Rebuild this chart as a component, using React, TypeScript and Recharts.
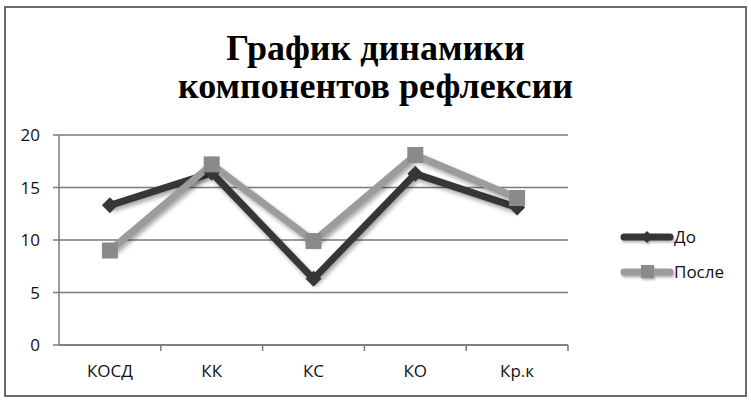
import React from "react";
import { LineChart, Line, XAxis, YAxis, CartesianGrid } from "recharts";

const categories = ["КОСД", "КК", "КС", "КО", "Кр.к"];
const beforeValues = [13.3, 16.4, 6.3, 16.3, 13.1];
const afterValues = [9, 17.2, 9.9, 18.1, 14];
const yTicks = [0, 5, 10, 15, 20];
const titleLines = ["График динамики", "компонентов рефлексии"];
const seriesNames = { before: "До", after: "После" };

const data = categories.map((name, i) => ({
  name,
  before: beforeValues[i],
  after: afterValues[i],
}));

const DARK = "#363636";
const LIGHT = "#9c9c9c";
const SQUARE = "#8a8a8a";
const AXIS = "#7a7a7a";
const FONT = "'Open Sans', 'Noto Sans', sans-serif";

const W = 751;
const H = 401;
const plotLeft = 59;
const plotRight = 568;
const band = (plotRight - plotLeft) / categories.length;

const Diamond = (props: any) => {
  const { cx, cy } = props;
  if (cx == null || cy == null) return null;
  const r = 8;
  return (
    <path
      d={`M${cx} ${cy - r}L${cx + r} ${cy}L${cx} ${cy + r}L${cx - r} ${cy}Z`}
      fill={DARK}
    />
  );
};

const Square = (props: any) => {
  const { cx, cy } = props;
  if (cx == null || cy == null) return null;
  const s = 16;
  return <rect x={cx - s / 2} y={cy - s / 2} width={s} height={s} fill={SQUARE} />;
};

const XTick = (props: any) => {
  const { x, y, payload } = props;
  const axisY = y - 8;
  return (
    <g>
      <line x1={x + band / 2} x2={x + band / 2} y1={axisY} y2={axisY + 6} stroke={AXIS} strokeWidth={1.5} />
      <text x={x} y={axisY + 32} textAnchor="middle" fontSize={17} fontFamily={FONT} fill="#111">
        {payload.value}
      </text>
    </g>
  );
};

// legend drawn by hand so it doesn't eat plot space
const LegendBox = () => {
  const items = [
    { label: seriesNames.before, color: DARK, marker: "diamond" },
    { label: seriesNames.after, color: LIGHT, marker: "square" },
  ];
  return (
    <svg width={130} height={70} style={{ position: "absolute", left: 620, top: 225, overflow: "visible" }}>
      {items.map((it, i) => {
        const cy = 12 + i * 35;
        return (
          <g key={it.label}>
            <g className="lg-shadow">
              <line x1={4} x2={50} y1={cy} y2={cy} stroke={it.color} strokeWidth={7} strokeLinecap="round" />
              {it.marker === "diamond" ? (
                <path d={`M27 ${cy - 6}L33 ${cy}L27 ${cy + 6}L21 ${cy}Z`} fill={DARK} />
              ) : (
                <rect x={21} y={cy - 7} width={13} height={13} fill={SQUARE} />
              )}
            </g>
            <text x={54} y={cy + 6} fontSize={17} fontFamily={FONT} fill="#111">
              {it.label}
            </text>
          </g>
        );
      })}
    </svg>
  );
};

export default function App() {
  return (
    <div style={{ position: "absolute", left: 0, top: 0, width: W, height: H, background: "#fff" }}>
      <style>{`.shadow-line { filter: drop-shadow(2px 3px 2px rgba(0,0,0,0.35)); }
.lg-shadow { filter: drop-shadow(1px 2px 1px rgba(0,0,0,0.3)); }`}</style>
      <div
        style={{
          position: "absolute",
          left: 4,
          top: 6,
          width: 743,
          height: 391,
          border: "2px solid #6a6a6a",
          boxSizing: "border-box",
        }}
      />
      <div
        style={{
          position: "absolute",
          left: 0,
          top: 29,
          width: W,
          textAlign: "center",
          fontFamily: "'Liberation Serif', 'Times New Roman', serif",
          fontWeight: "bold",
          fontSize: 36,
          lineHeight: "38px",
          color: "#000",
        }}
      >
        {titleLines.map((t) => (
          <div key={t}>{t}</div>
        ))}
      </div>
      <LineChart
        width={W}
        height={H}
        data={data}
        margin={{ top: 135, right: W - plotRight, bottom: 0, left: 0 }}
        style={{ position: "absolute", left: 0, top: 0 }}
      >
        <CartesianGrid vertical={false} stroke={AXIS} strokeWidth={1.5} />
        <XAxis
          dataKey="name"
          scale="band"
          height={56}
          axisLine={{ stroke: AXIS, strokeWidth: 1.5 }}
          tickLine={false}
          tick={<XTick />}
          interval={0}
        />
        <YAxis
          width={plotLeft}
          domain={[0, 20]}
          ticks={yTicks}
          axisLine={{ stroke: AXIS, strokeWidth: 1.5 }}
          tickLine={{ stroke: AXIS, strokeWidth: 1.5 }}
          tickSize={6}
          tickMargin={13}
          tick={{ fontSize: 17, fontFamily: FONT, fill: "#111" }}
        />
        <Line
          className="shadow-line"
          dataKey="before"
          name={seriesNames.before}
          stroke={DARK}
          strokeWidth={7}
          dot={<Diamond />}
          activeDot={false}
          isAnimationActive={false}
        />
        <Line
          className="shadow-line"
          dataKey="after"
          name={seriesNames.after}
          stroke={LIGHT}
          strokeWidth={7}
          dot={<Square />}
          activeDot={false}
          isAnimationActive={false}
        />
      </LineChart>
      <LegendBox />
    </div>
  );
}
